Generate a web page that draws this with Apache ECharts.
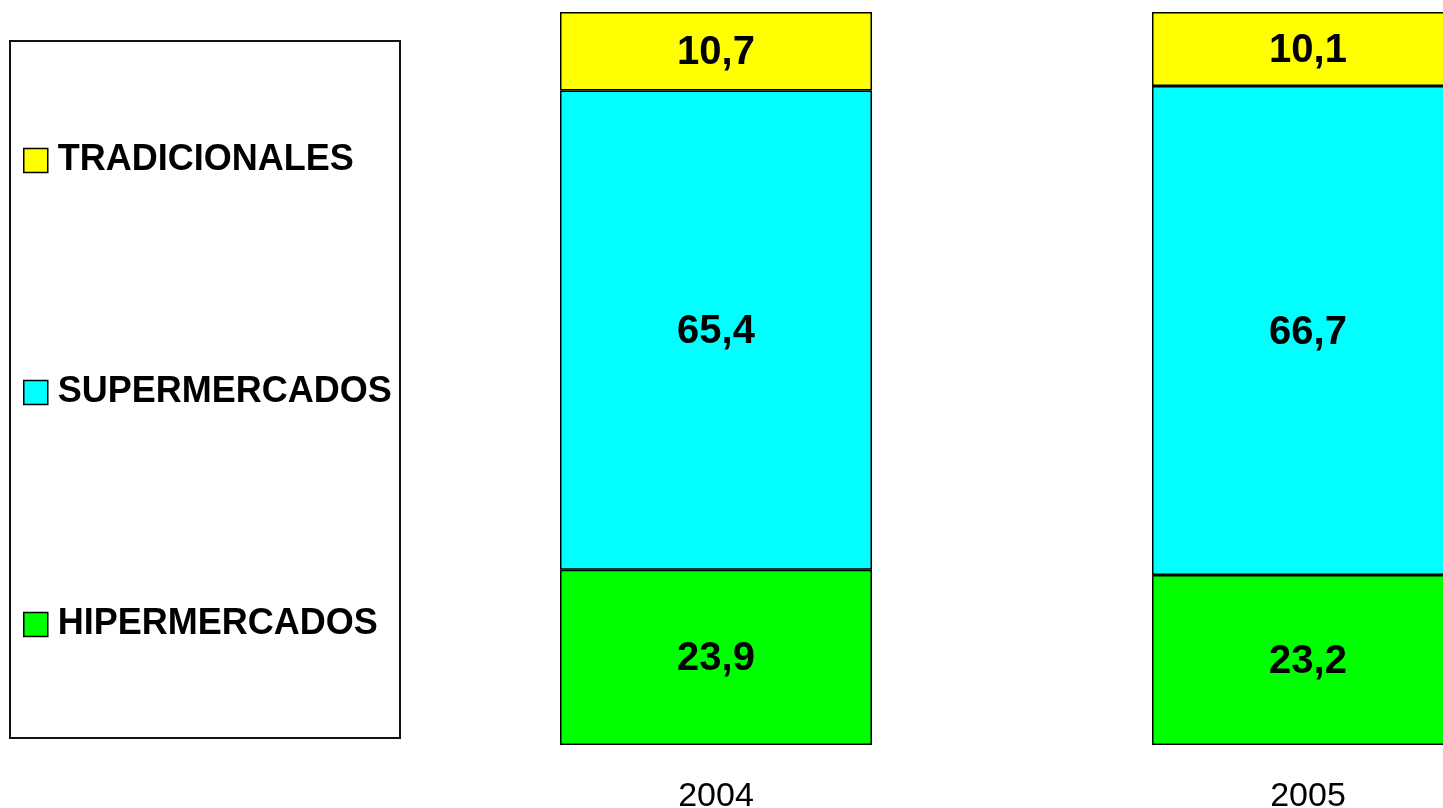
<!DOCTYPE html>
<html>
<head>
<meta charset="utf-8">
<script src="https://cdn.jsdelivr.net/npm/echarts@6/dist/echarts.min.js"></script>
<style>html,body{margin:0;padding:0;background:#fff;overflow:hidden;width:1443px;height:808px;}#c{width:1765px;height:808px;}</style>
</head>
<body>
<div id="c"></div>
<script>
var categories = ['2004', '2005'];
var hipermercados = [23.9, 23.2];
var supermercados = [65.4, 66.7];
var tradicionales = [10.7, 10.1];
var legendNames = ['TRADICIONALES', 'SUPERMERCADOS', 'HIPERMERCADOS'];

var FONT = '"Liberation Sans", Arial, sans-serif';
function fmt(p) { return p.value.toFixed(1).replace('.', ','); }
function mk(name, data, color) {
  return {
    name: name, type: 'bar', stack: 'total', data: data, barWidth: 312,
    itemStyle: { color: color, borderColor: '#000', borderWidth: 1.5 },
    label: { show: true, position: 'inside', formatter: fmt, color: '#000',
      fontFamily: FONT, fontWeight: 'bold', fontSize: 40, offset: [0, 2] },
    emphasis: { disabled: true }
  };
}
var chart = echarts.init(document.getElementById('c'));
chart.setOption({
  animation: false,
  backgroundColor: '#fff',
  graphic: [{ type: 'rect', shape: { x: 10, y: 41, width: 390, height: 697 },
    style: { fill: 'none', stroke: '#111', lineWidth: 2 }, z: 0 }],
  legend: {
    orient: 'vertical', left: 23, top: 140, padding: 0,
    data: legendNames, icon: 'rect', itemWidth: 24, itemHeight: 24, itemGap: 191,
    selectedMode: false,
    itemStyle: { borderColor: '#000', borderWidth: 1.5 },
    textStyle: { fontFamily: FONT, fontWeight: 'bold', fontSize: 36, color: '#000', lineHeight: 36, padding: [5, 0, 0, 5] }
  },
  grid: { left: 420, top: 12, right: 161, bottom: 63, containLabel: false, outerBoundsMode: 'none' },
  xAxis: {
    type: 'category', data: categories,
    axisLine: { show: false }, axisTick: { show: false },
    axisLabel: { fontFamily: FONT, fontSize: 34, color: '#000', margin: 35 }
  },
  yAxis: { type: 'value', min: 0, max: 100, show: false, splitLine: { show: false } },
  series: [
    mk('HIPERMERCADOS', hipermercados, '#00FF00'),
    mk('SUPERMERCADOS', supermercados, '#00FFFF'),
    mk('TRADICIONALES', tradicionales, '#FFFF00')
  ]
});
</script>
</body>
</html>
